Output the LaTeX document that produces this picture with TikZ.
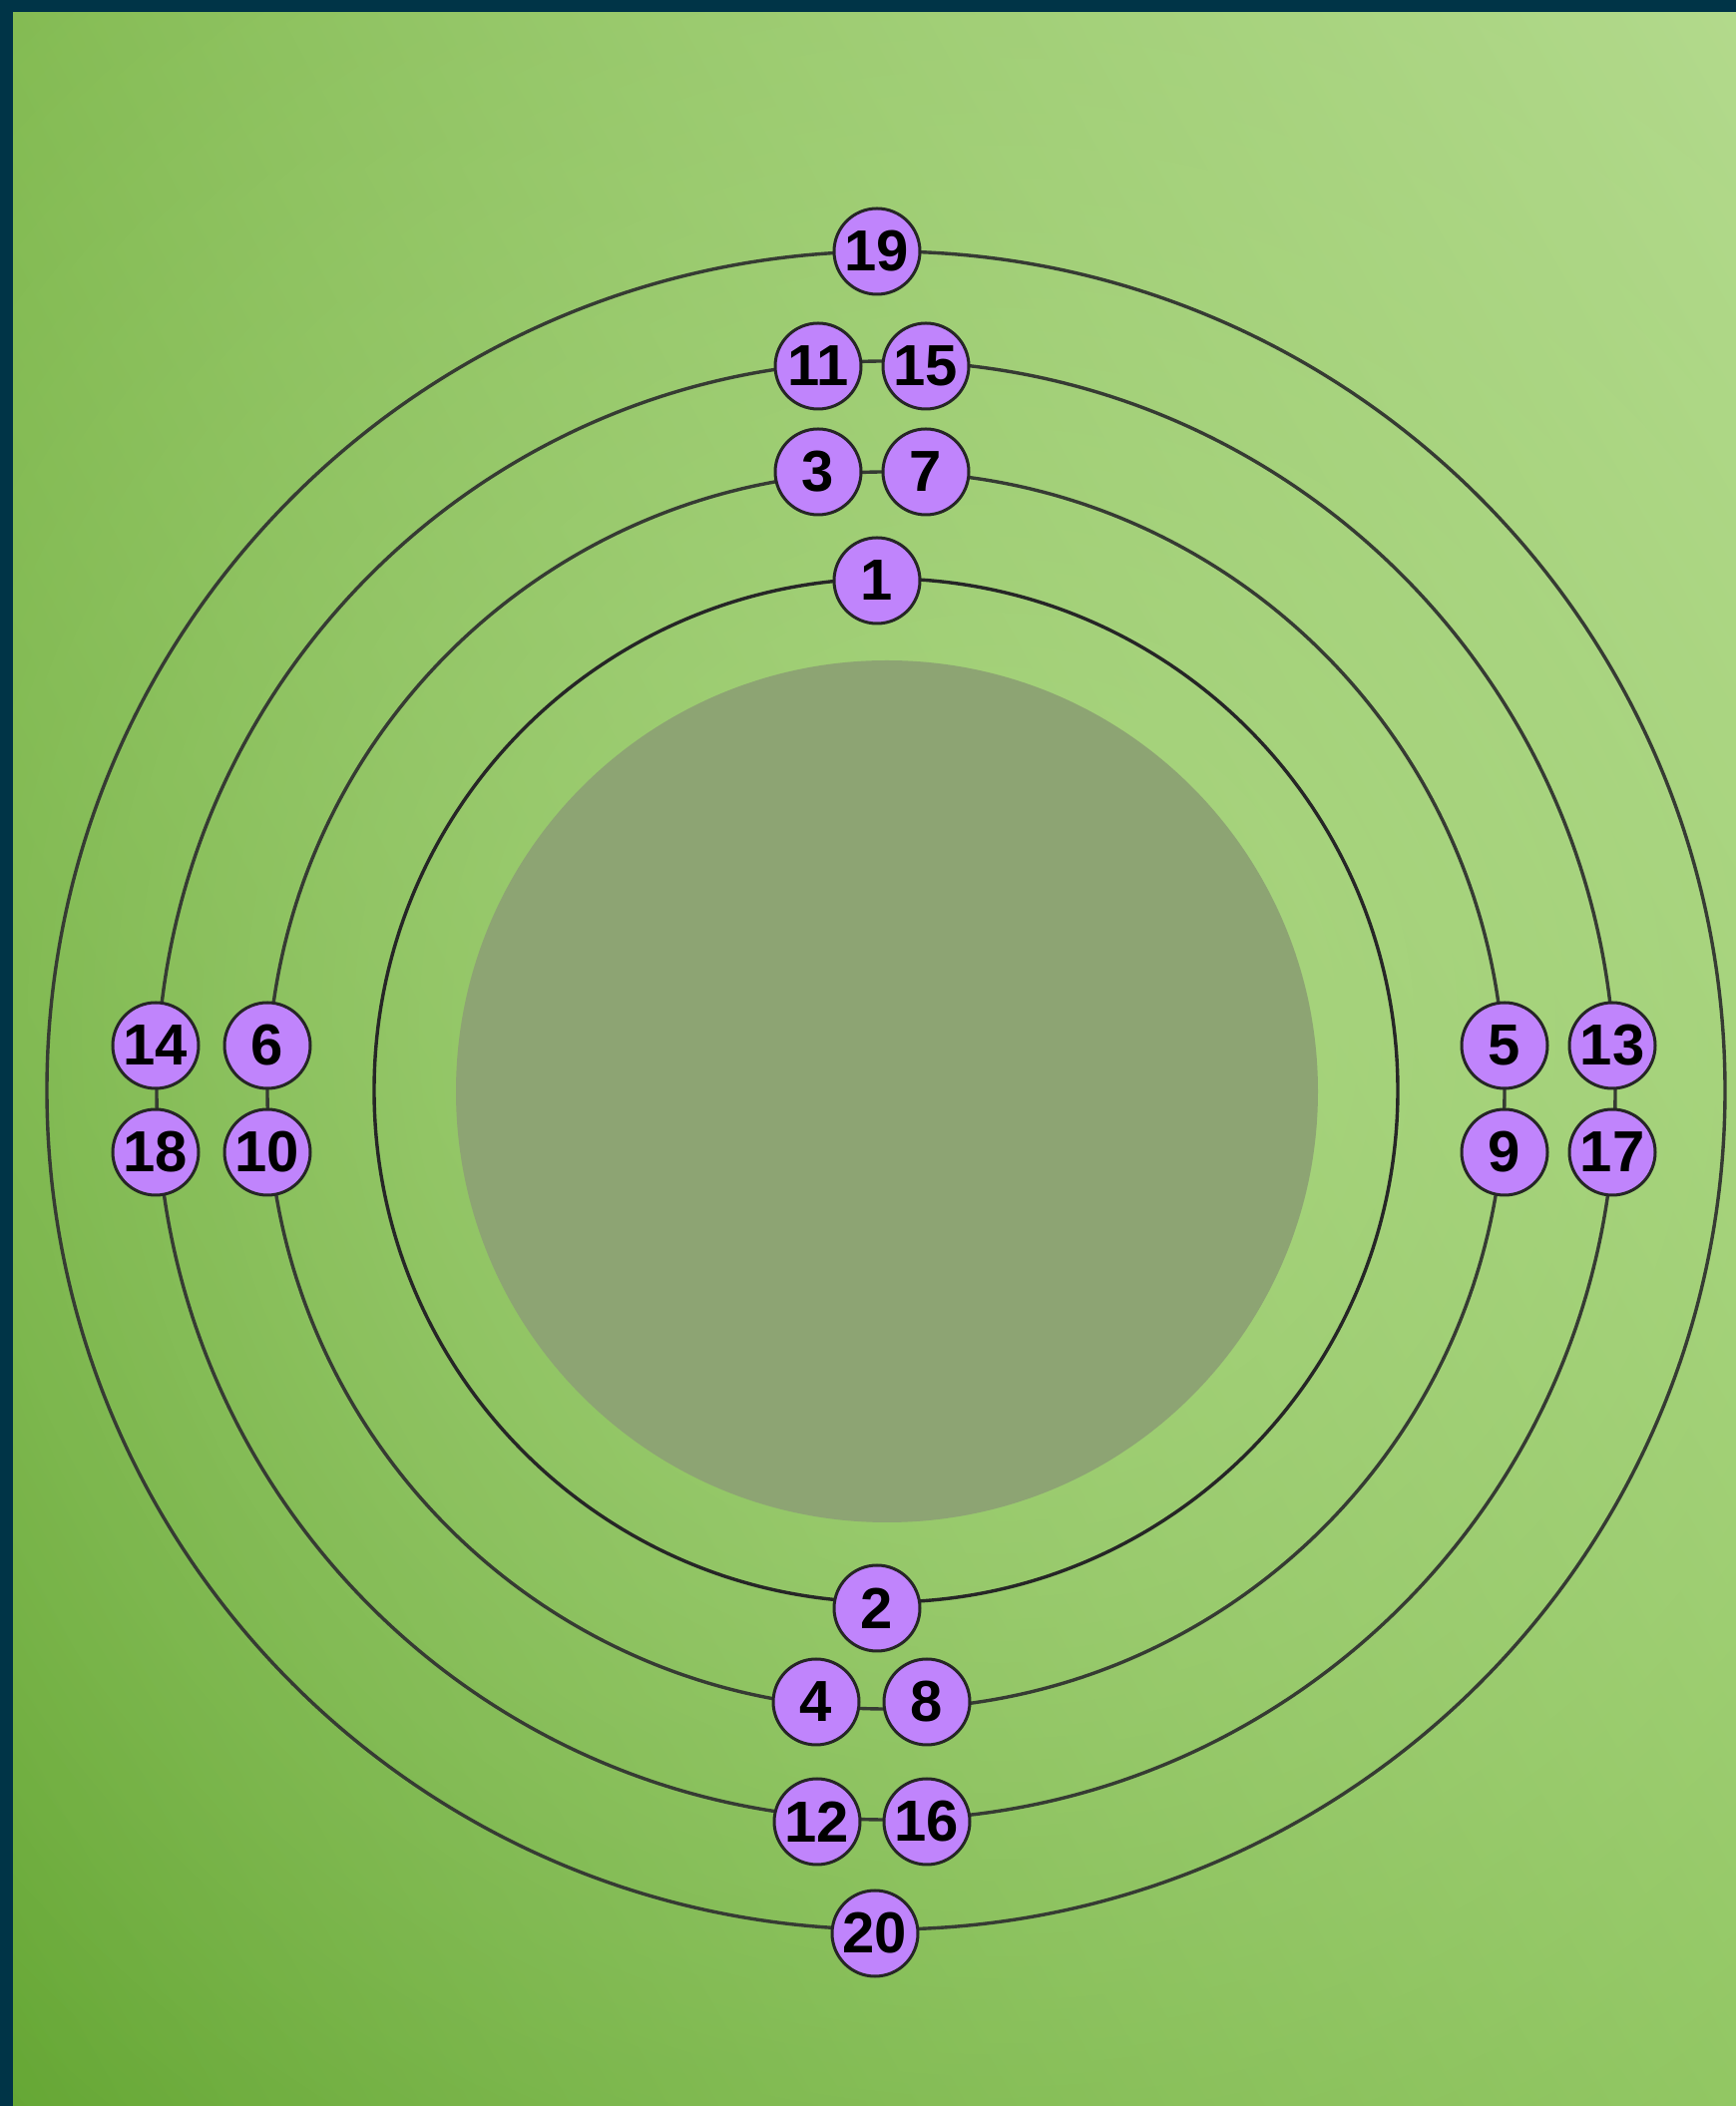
\documentclass[tikz,border=0pt]{standalone}
\usepackage{fontspec}
\setmainfont{Liberation Sans}
\usepackage{tikz}
\usetikzlibrary{fadings,shadings}
\definecolor{atborder}{HTML}{003447}
\definecolor{atnucleus}{HTML}{8DA473}
\definecolor{atelectron}{HTML}{C084FC}
\definecolor{atorbit}{HTML}{363B33}
\definecolor{bgul}{HTML}{7CB64A}
\definecolor{bgur}{HTML}{B2D98C}
\definecolor{bgll}{HTML}{5A9F28}
\definecolor{bglr}{HTML}{8AC25A}
\definecolor{bgglow}{HTML}{B6DE8E}
\tikzfading[name=glowFade, inner color=transparent!35, outer color=transparent!100]
\tikzset{
  orbitLine/.style={draw=atorbit, line width=1.7pt},
  electron/.style={circle, draw=black!85, line width=1.5pt, fill=atelectron, minimum size=43pt, inner sep=0pt, font=\fontsize{29}{29}\selectfont\bfseries}
}

\begin{document}
\begin{tikzpicture}[x=0.5pt,y=0.5pt]
  \useasboundingbox (0,0) rectangle (1740,2111);
  \shade[upper left=bgul, upper right=bgur, lower left=bgll, lower right=bglr] (0,0) rectangle (1740,2111);
  \fill[bgglow, path fading=glowFade] (1000,1080) circle (1800);
  \fill[atnucleus] (889,1017) circle (432);
  \draw[orbitLine, draw=black!85] (888,1018) circle (513);
  \draw[orbitLine] (888,1018) circle (620);
  \draw[orbitLine] (888,1018) circle (731);
  \draw[orbitLine] (888,1018) circle (841);
  \node[electron] (e1) at (879,1529) {1};
  \node[electron] (e2) at (879,499) {2};
  \node[electron] (e3) at (820,1638) {3};
  \node[electron] (e4) at (818,405) {4};
  \node[electron] (e5) at (1508,1063) {5};
  \node[electron] (e6) at (268,1063) {6};
  \node[electron] (e7) at (928,1638) {7};
  \node[electron] (e8) at (929,405) {8};
  \node[electron] (e9) at (1508,956) {9};
  \node[electron] (e10) at (268,956) {10};
  \node[electron] (e11) at (820,1744) {11};
  \node[electron] (e12) at (819,285) {12};
  \node[electron] (e13) at (1616,1063) {13};
  \node[electron] (e14) at (156,1063) {14};
  \node[electron] (e15) at (928,1744) {15};
  \node[electron] (e16) at (929,285) {16};
  \node[electron] (e17) at (1616,956) {17};
  \node[electron] (e18) at (156,956) {18};
  \node[electron] (e19) at (879,1859) {19};
  \node[electron] (e20) at (877,173) {20};
  \fill[atborder] (0,2099) rectangle (1740,2111);
  \fill[atborder] (0,0) rectangle (13,2111);
\end{tikzpicture}
\end{document}
